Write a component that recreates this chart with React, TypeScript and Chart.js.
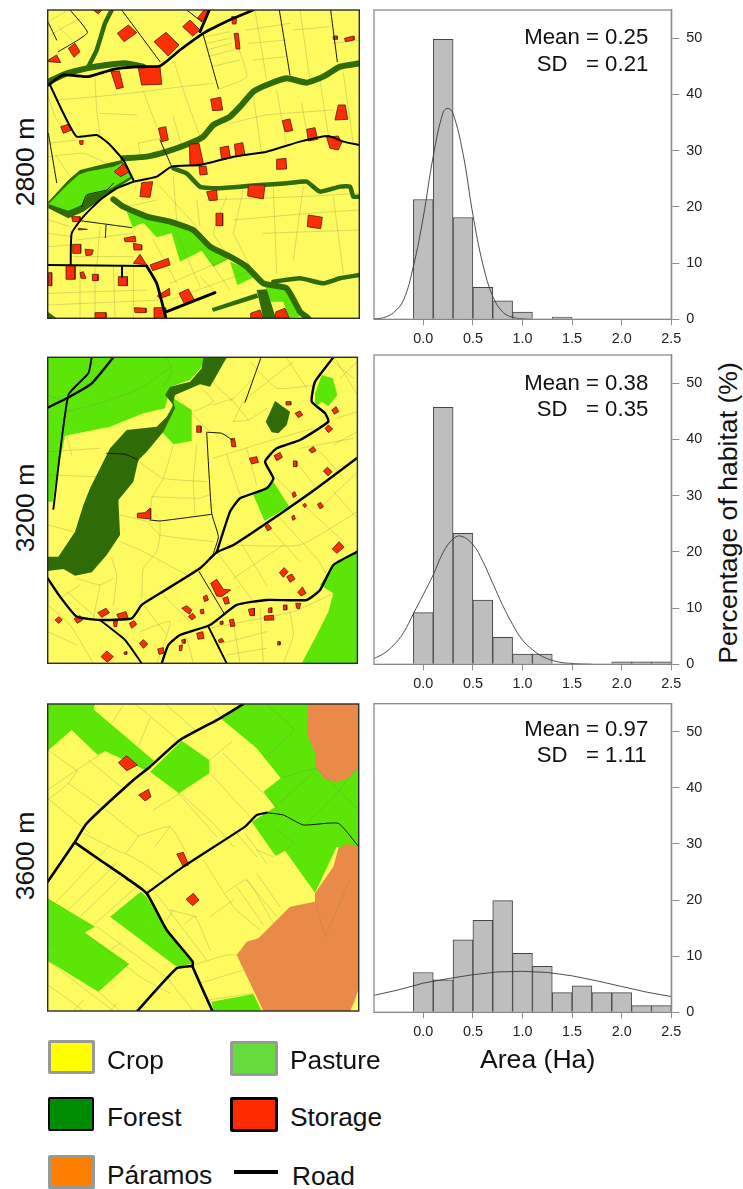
import React, { useEffect, useRef } from "react";
import { Chart, registerables } from "chart.js";

Chart.register(...registerables);

const FONT = '"Liberation Sans", Arial, sans-serif';

// ---------- histogram data ----------
const binCenters = [0, 0.2, 0.4, 0.6, 0.8, 1.0, 1.2, 1.4, 1.6, 1.8, 2.0, 2.2, 2.4];
const hist2800 = [21.3, 49.8, 18.1, 5.7, 3.3, 1.3, 0, 0.4, 0, 0, 0, 0, 0];
const hist3200 = [9.2, 45.7, 23.3, 11.4, 4.8, 1.8, 1.8, 0, 0, 0, 0.45, 0.45, 0.45];
const hist3600 = [7.1, 5.8, 12.9, 16.4, 19.9, 10.5, 8.2, 3.5, 4.7, 3.5, 3.5, 1.2, 1.2];

const curveX2800 = [-0.5, -0.4, -0.3, -0.2, -0.1, 0, 0.1, 0.2, 0.25, 0.3, 0.4, 0.5, 0.6, 0.7, 0.8, 0.9, 1.0, 1.1];
const curveY2800 = [0.1, 0.3, 1.2, 3.4, 9.4, 18.2, 29, 36.8, 37.5, 36.6, 29.5, 18.6, 9.8, 4.1, 1.3, 0.35, 0.1, 0];
const curveX3200 = [-0.5, -0.4, -0.3, -0.2, -0.1, 0, 0.1, 0.2, 0.3, 0.38, 0.5, 0.6, 0.7, 0.8, 0.9, 1.0, 1.1, 1.2, 1.3, 1.4, 1.5, 1.6, 1.7];
const curveY3200 = [1.0, 1.9, 3.4, 5.6, 9.0, 12.4, 15.9, 19.9, 22.3, 22.8, 21.3, 18.3, 14.4, 10.5, 7.1, 4.3, 2.6, 1.4, 0.7, 0.3, 0.15, 0.05, 0];
const curveX3600 = [-0.5, -0.25, 0, 0.25, 0.5, 0.75, 1.0, 1.25, 1.5, 1.75, 2.0, 2.25, 2.5];
const curveY3600 = [3.0, 4.0, 5.2, 6.0, 6.7, 7.2, 7.3, 7.1, 6.5, 5.6, 4.6, 3.6, 2.8];

// ---------- map 2800 m ----------
const map1Pasture = [
  [[380, 635], [440, 655], [510, 670], [580, 690], [630, 740], [690, 775], [640, 800], [605, 752], [540, 785], [515, 700], [470, 712], [430, 668], [398, 682]],
  [[690, 785], [740, 805], [765, 830], [712, 855]],
  [[795, 855], [860, 860], [900, 950], [865, 953], [850, 905], [810, 905]],
];
const map1ForestBlocks = [
  [[145, 605], [205, 540], [240, 510], [300, 495], [365, 480], [398, 535], [350, 565], [300, 600], [250, 635], [205, 655], [145, 625]],
  [[770, 870], [800, 868], [828, 955], [790, 955]],
  [[635, 925], [770, 880], [775, 893], [640, 935]],
  [[143, 935], [170, 955], [143, 955]],
];
const map1InnerPasture = [
  [[145, 612], [205, 552], [235, 525], [260, 515], [340, 500], [365, 490], [392, 530], [345, 558], [320, 572], [262, 585], [245, 615], [205, 632]],
];
const map1RiversWide = [
  [[370, 475], [440, 470], [500, 455], [570, 430], [610, 410], [640, 375], [690, 350], [720, 320], [760, 275], [800, 255], [860, 235], [920, 248], [970, 230], [1020, 200], [1078, 190]],
  [[340, 598], [370, 620], [440, 650], [510, 665], [580, 690], [630, 740], [690, 770], [740, 800], [790, 850], [860, 865], [900, 935], [925, 955]],
  [[145, 245], [200, 220], [260, 205], [320, 195], [375, 190], [430, 200]],
];
const map1RiversNarrow = [
  [[265, 200], [290, 150], [315, 70], [335, 30]],
  [[520, 505], [560, 520], [600, 560], [650, 565], [720, 560], [780, 555], [860, 550], [920, 545], [960, 575], [1020, 560], [1050, 560], [1060, 590], [1078, 590]],
  [[820, 845], [900, 835], [970, 850], [1020, 835], [1078, 825]],
];
const map1Parcels = [
  [[150, 105], [240, 55]], [[175, 80], [215, 120]], [[145, 65], [205, 30]],
  [[285, 235], [290, 330], [300, 405]], [[170, 300], [290, 290], [430, 275], [545, 260], [640, 250]], [[430, 275], [470, 380]],
  [[525, 195], [560, 300], [600, 410]], [[300, 340], [410, 345]], [[520, 350], [545, 440]], [[415, 430], [480, 415]], [[415, 430], [420, 460]],
  [[620, 110], [690, 95]], [[620, 130], [690, 115]], [[620, 150], [695, 130]], [[625, 170], [700, 150]], [[635, 200], [720, 180]], [[700, 100], [740, 230], [650, 270]],
  [[740, 90], [870, 70]], [[745, 130], [860, 120]], [[760, 180], [860, 170]], [[765, 30], [800, 240]], [[1000, 130], [1078, 120]], [[880, 90], [990, 80]], [[900, 30], [930, 240]],
  [[760, 290], [785, 460]], [[830, 270], [860, 440]], [[905, 310], [925, 420]], [[960, 240], [985, 405]], [[1030, 220], [1060, 430]],
  [[690, 370], [800, 345], [1000, 330]], [[620, 600], [900, 590], [1078, 580]], [[1000, 590], [1030, 820]], [[910, 560], [880, 780]], [[820, 560], [830, 820]], [[730, 570], [700, 700]],
  [[700, 660], [930, 640], [1078, 630]], [[790, 700], [1078, 690]], [[145, 660], [210, 680]], [[145, 700], [215, 710]], [[145, 740], [215, 735]], [[230, 720], [400, 700]], [[220, 770], [400, 770]], [[300, 680], [290, 800]],
  [[145, 880], [440, 870]], [[145, 915], [490, 900]], [[285, 800], [285, 955]], [[240, 800], [240, 955]], [[340, 800], [345, 955]], [[400, 800], [400, 955]],
  [[510, 850], [650, 790], [700, 770]], [[530, 700], [600, 860]], [[460, 720], [530, 850]], [[620, 770], [690, 870]], [[510, 900], [760, 810]], [[600, 830], [650, 880]],
  [[145, 290], [165, 350], [200, 400]], [[145, 470], [250, 460], [320, 490]], [[145, 430], [230, 420]], [[170, 470], [210, 530]],
  [[470, 600], [380, 620]], [[480, 560], [590, 680]], [[520, 530], [530, 660]], [[590, 600], [600, 680]], [[680, 590], [640, 700], [680, 760]], [[700, 700], [760, 820]],
];
const map1Storage = [
  [[280, 30], [305, 30], [295, 42]], [[352, 100], [385, 75], [410, 98], [372, 125]], [[462, 125], [498, 97], [537, 135], [505, 168]], [[548, 80], [570, 60], [600, 90], [578, 108]],
  [[592, 55], [612, 30], [630, 30], [610, 65]], [[695, 50], [710, 50], [708, 72], [697, 72]], [[703, 100], [715, 100], [720, 147], [708, 147]], [[1000, 108], [1012, 108], [1012, 118], [1000, 118]],
  [[1034, 115], [1060, 108], [1062, 120], [1036, 125]], [[205, 145], [225, 130], [240, 155], [222, 172]], [[145, 180], [170, 165], [182, 188], [145, 185]], [[333, 215], [358, 213], [370, 262], [350, 267]],
  [[415, 205], [480, 200], [485, 253], [425, 255]], [[632, 298], [662, 292], [668, 330], [638, 332]], [[1015, 315], [1036, 315], [1043, 358], [1005, 360]], [[847, 362], [870, 357], [878, 392], [855, 395]],
  [[475, 385], [497, 380], [505, 420], [485, 425]], [[182, 380], [205, 373], [215, 390], [190, 400]], [[238, 422], [250, 422], [248, 434], [240, 433]], [[920, 388], [945, 383], [953, 418], [925, 423]],
  [[980, 412], [1015, 408], [1025, 428], [1015, 450], [990, 445]], [[568, 433], [597, 430], [610, 490], [570, 497]], [[660, 443], [685, 438], [692, 475], [665, 478]], [[703, 433], [728, 428], [735, 465], [708, 470]],
  [[830, 478], [858, 475], [860, 507], [830, 508]], [[597, 500], [618, 498], [622, 523], [600, 525]], [[342, 515], [370, 492], [388, 515], [362, 530]], [[425, 548], [458, 545], [450, 592], [420, 590]],
  [[620, 575], [650, 570], [652, 600], [628, 602]], [[745, 555], [795, 555], [790, 597], [743, 588]], [[648, 640], [668, 640], [668, 677], [648, 677]], [[925, 645], [967, 652], [962, 686], [922, 680]],
  [[215, 650], [240, 650], [240, 665], [218, 665]], [[235, 685], [262, 688], [235, 690]], [[372, 715], [405, 708], [408, 725], [375, 725]], [[400, 730], [425, 735], [425, 750], [402, 750]],
  [[218, 733], [242, 733], [242, 760], [218, 760]], [[255, 748], [280, 750], [275, 765], [258, 767]], [[400, 790], [420, 763], [440, 795]], [[450, 795], [505, 775], [510, 795], [458, 812]],
  [[198, 797], [225, 797], [225, 838], [200, 838]], [[145, 818], [155, 818], [155, 857], [145, 857]], [[240, 818], [250, 815], [258, 835], [243, 835]], [[277, 823], [294, 823], [294, 842], [277, 842]],
  [[355, 830], [382, 830], [382, 857], [355, 857]], [[537, 880], [565, 867], [585, 903], [555, 915]], [[472, 888], [508, 865], [510, 885], [480, 895]], [[403, 923], [438, 925], [438, 938], [405, 938]],
  [[285, 938], [318, 938], [318, 955], [285, 955]], [[462, 923], [495, 923], [497, 955], [462, 955]], [[752, 940], [780, 930], [790, 955], [752, 955]], [[828, 935], [855, 925], [868, 955], [825, 955]],
];
const map1RoadsThick = [
  [[145, 255], [190, 225], [265, 230], [340, 208], [415, 200], [480, 198], [540, 150], [610, 100], [700, 55], [760, 30]],
  [[440, 798], [470, 850], [498, 955]],
  [[500, 935], [645, 878]],
  [[600, 95], [628, 30]],
];
const map1RoadsMid = [
  [[150, 255], [190, 340], [230, 410], [290, 405], [325, 430], [370, 480], [400, 540]],
  [[400, 545], [470, 530], [515, 500], [600, 495], [700, 470], [800, 455], [900, 425], [985, 408], [1030, 425], [1078, 435]],
  [[400, 545], [350, 565], [300, 600], [250, 650], [215, 700], [212, 795]],
  [[145, 795], [440, 798]], [[366, 800], [366, 830]],
];
const map1RoadsThin = [
  [[610, 105], [655, 265]], [[838, 30], [870, 225]], [[992, 30], [1012, 185]], [[210, 30], [262, 98], [175, 155]], [[145, 68], [170, 120]],
  [[365, 30], [480, 185]], [[560, 30], [605, 65]], [[240, 662], [395, 683]], [[318, 675], [316, 713]], [[480, 420], [515, 500]], [[145, 400], [170, 548]],
  [[245, 620], [260, 585], [320, 570], [340, 550]],
];

// ---------- map 3200 m ----------
const map2Pasture = [
  [[143, 37], [610, 37], [610, 60], [570, 105], [510, 125], [495, 190], [430, 205], [330, 245], [195, 272], [165, 420], [158, 470], [143, 470]],
  [[520, 160], [575, 195], [575, 288], [520, 298], [487, 262], [510, 215]],
  [[965, 90], [998, 100], [1012, 150], [985, 183], [965, 170], [945, 185], [945, 145]],
  [[760, 450], [820, 410], [868, 485], [793, 527]],
  [[1072, 620], [1000, 660], [960, 720], [1000, 745], [985, 800], [950, 870], [905, 955], [1072, 955]],
];
const map2Forest = [
  [[680, 37], [610, 37], [605, 70], [570, 110], [510, 125], [495, 150], [520, 180], [500, 215], [470, 245], [380, 255], [330, 310], [315, 340], [270, 430], [250, 480], [225, 560], [175, 635], [143, 635], [143, 678], [190, 672], [225, 692], [275, 682], [320, 630], [360, 570], [355, 465], [400, 410], [415, 345], [440, 320], [490, 260], [525, 190], [520, 170], [525, 150], [600, 118], [630, 125], [650, 90]],
  [[825, 168], [870, 200], [860, 240], [835, 265], [815, 262], [797, 230]],
];
const map2Parcels = [
  [[143, 150], [180, 165]], [[200, 200], [300, 175], [420, 130], [520, 60]], [[500, 40], [515, 80], [490, 125]],
  [[143, 320], [300, 310]], [[200, 272], [215, 330]], [[143, 390], [290, 395]], [[143, 540], [220, 560]],
  [[415, 350], [490, 400], [620, 410]], [[520, 300], [490, 400], [455, 460], [450, 530]], [[455, 455], [590, 460], [630, 450]], [[590, 300], [580, 410], [585, 510]],
  [[360, 510], [440, 530], [480, 570], [640, 590]], [[480, 530], [480, 570], [470, 620], [430, 670], [425, 760]], [[360, 590], [430, 620], [560, 690]], [[335, 640], [350, 690], [340, 780]],
  [[230, 700], [300, 720], [340, 700]], [[180, 760], [240, 720]], [[300, 720], [280, 820]],
  [[680, 40], [640, 110], [700, 170], [745, 225]], [[525, 150], [630, 260], [690, 270]], [[600, 125], [640, 170], [580, 200]], [[700, 230], [730, 170], [790, 120], [880, 50]],
  [[750, 50], [830, 130], [945, 120]], [[860, 40], [920, 130]], [[640, 180], [700, 160]], [[760, 100], [690, 170]], [[700, 230], [745, 225], [800, 190]], [[640, 340], [800, 290], [940, 250]],
  [[680, 330], [720, 450]], [[740, 310], [770, 420]], [[900, 310], [1060, 280]], [[950, 430], [880, 340]], [[830, 400], [900, 470]], [[960, 320], [1030, 400]],
  [[1000, 50], [1060, 100]], [[1020, 100], [1072, 50]], [[1010, 220], [1072, 200]], [[1000, 300], [1072, 260]], [[1005, 40], [1072, 150]],
  [[680, 600], [900, 600], [1072, 500]], [[830, 510], [950, 640], [980, 690]], [[900, 470], [1030, 590]], [[1000, 440], [1072, 520]], [[720, 590], [800, 720]], [[650, 620], [760, 770]],
  [[800, 540], [900, 650]], [[700, 700], [850, 600]], [[1072, 380], [960, 490]],
  [[625, 850], [880, 800], [1000, 745]], [[700, 830], [720, 955]], [[780, 790], [790, 955]], [[870, 800], [880, 870], [850, 955]], [[650, 900], [800, 860]], [[680, 930], [800, 910]],
  [[143, 780], [210, 840], [280, 955]], [[143, 860], [230, 900]], [[200, 740], [280, 810]], [[430, 780], [500, 870]], [[480, 740], [570, 830]], [[420, 860], [510, 830], [470, 955]], [[560, 880], [580, 955]],
];
const map2Storage = [
  [[412, 505], [435, 503], [450, 490], [452, 522], [412, 518]], [[590, 243], [603, 243], [603, 262], [590, 262]], [[692, 282], [703, 280], [708, 305], [695, 305]], [[748, 340], [770, 335], [775, 352], [755, 357]],
  [[822, 332], [840, 322], [847, 337], [830, 347]], [[880, 348], [890, 348], [890, 365], [880, 365]], [[926, 315], [940, 305], [948, 317], [935, 324]], [[970, 378], [982, 367], [996, 380], [984, 393]],
  [[975, 250], [985, 240], [998, 252], [985, 263]], [[885, 205], [900, 198], [908, 210], [895, 218]], [[858, 170], [872, 170], [872, 180], [858, 180]], [[995, 195], [1008, 185], [1016, 200], [1003, 208]],
  [[876, 445], [884, 440], [889, 452], [880, 458]], [[908, 480], [915, 475], [920, 482], [914, 488]], [[952, 478], [962, 472], [970, 485], [960, 492]], [[875, 515], [882, 510], [886, 522], [878, 526]],
  [[795, 545], [805, 538], [815, 550], [803, 558]], [[997, 612], [1017, 590], [1032, 607], [1010, 625]], [[838, 683], [852, 668], [864, 680], [850, 697]], [[860, 695], [875, 687], [885, 702], [870, 712]],
  [[893, 742], [907, 726], [918, 745], [903, 753]], [[632, 715], [650, 703], [670, 733], [692, 735], [665, 755], [650, 753]], [[668, 760], [683, 755], [688, 775], [675, 778]], [[610, 755], [620, 750], [625, 765], [613, 770]],
  [[545, 790], [560, 782], [575, 795], [568, 808]], [[565, 815], [578, 805], [587, 817], [575, 825]], [[600, 795], [610, 792], [612, 805], [603, 807]], [[293, 803], [318, 790], [328, 803], [305, 817]],
  [[350, 808], [378, 800], [385, 822], [357, 822]], [[340, 830], [352, 828], [350, 845], [342, 845]], [[388, 835], [402, 827], [410, 838], [395, 850]], [[222, 822], [240, 812], [248, 825], [232, 835]],
  [[165, 825], [177, 815], [187, 825], [175, 835]], [[418, 895], [430, 884], [443, 897], [430, 910]], [[473, 912], [490, 908], [492, 925], [477, 928]], [[303, 935], [320, 918], [340, 935], [322, 952]],
  [[372, 922], [380, 920], [380, 928], [374, 928]], [[538, 902], [547, 900], [545, 917], [538, 917]], [[545, 885], [555, 882], [555, 895], [547, 895]], [[590, 865], [608, 860], [612, 880], [594, 883]],
  [[655, 885], [665, 880], [672, 890], [658, 893]], [[660, 830], [668, 828], [668, 838], [660, 838]], [[688, 825], [700, 822], [705, 843], [692, 845]], [[745, 793], [763, 790], [763, 812], [750, 812]],
  [[805, 790], [815, 788], [815, 803], [805, 803]], [[793, 813], [820, 811], [822, 825], [793, 826]], [[850, 780], [860, 780], [860, 795], [850, 795]], [[887, 775], [902, 775], [898, 792], [890, 790]],
  [[833, 890], [840, 890], [840, 900], [833, 900]],
];
const map2RoadsThick = [
  [[1070, 340], [950, 430], [850, 500], [700, 600], [650, 622], [600, 670], [480, 745], [425, 780], [395, 820], [300, 825], [230, 815], [180, 755], [143, 700]],
  [[650, 622], [690, 500], [720, 460], [800, 430], [820, 400], [795, 350], [830, 310], [900, 285], [985, 230], [975, 205], [935, 170], [945, 110], [1000, 37]],
  [[1072, 620], [1000, 660], [960, 735], [920, 765], [800, 765], [710, 780], [630, 840], [540, 870], [505, 900], [485, 955]],
  [[143, 188], [200, 160], [275, 115], [340, 37]],
];
const map2RoadsMid = [
  [[300, 825], [375, 885], [425, 955]], [[625, 845], [680, 955]], [[275, 37], [265, 85], [205, 150], [160, 492]],
];
const map2RoadsThin = [
  [[597, 680], [672, 805]], [[620, 265], [635, 505], [655, 575], [640, 625]], [[450, 525], [480, 528], [635, 508]], [[620, 262], [665, 265], [697, 285]], [[735, 172], [783, 37]], [[320, 325], [375, 328], [415, 345]],
];

// ---------- map 3600 m ----------
const map3Pasture = [
  [[143, 42], [285, 42], [280, 58], [462, 212], [435, 240], [315, 183], [293, 195], [215, 120], [143, 182]],
  [[545, 152], [628, 210], [628, 250], [537, 310], [450, 245]],
  [[665, 88], [730, 42], [1076, 42], [1076, 500], [1010, 470], [945, 608], [855, 482], [826, 497], [755, 395], [825, 352], [790, 305], [842, 265], [770, 175]],
  [[422, 605], [440, 620], [510, 740], [580, 820], [530, 830], [330, 680]],
  [[143, 625], [285, 710], [143, 790]],
  [[143, 790], [250, 725], [388, 822], [295, 905], [143, 812]],
  [[635, 935], [760, 912], [785, 963], [640, 963]],
];
const map3Paramos = [
  [[925, 42], [1076, 42], [1076, 230], [1045, 265], [1010, 277], [970, 265], [945, 225], [945, 190], [920, 130]],
  [[1076, 470], [1040, 462], [1015, 475], [1000, 530], [945, 610], [945, 635], [870, 650], [800, 720], [775, 745], [740, 755], [710, 795], [790, 963], [1050, 963], [1065, 930], [1076, 895]],
];
const map3Parcels = [
  [[143, 300], [230, 240], [315, 185]], [[143, 180], [235, 245]], [[143, 325], [270, 430]], [[205, 280], [330, 370], [415, 438]], [[265, 210], [375, 300]], [[230, 245], [205, 280], [143, 330]],
  [[370, 45], [335, 100]], [[410, 45], [535, 150]], [[450, 85], [415, 170]], [[500, 45], [585, 120]], [[640, 50], [660, 80]],
  [[540, 310], [640, 400], [700, 470]], [[460, 360], [540, 310]], [[415, 438], [510, 410], [560, 490]], [[415, 438], [375, 490], [330, 470], [250, 430]], [[510, 410], [465, 470]], [[375, 490], [430, 520], [500, 570]],
  [[630, 210], [695, 155]], [[670, 190], [840, 360]], [[630, 250], [750, 380]], [[535, 310], [650, 440]],
  [[165, 640], [325, 470]], [[205, 660], [350, 520]], [[240, 680], [375, 550]], [[280, 705], [410, 590]],
  [[610, 510], [700, 650], [780, 720]], [[680, 605], [740, 570], [820, 700]], [[710, 590], [790, 705]], [[740, 570], [830, 680]], [[770, 550], [840, 650]], [[630, 680], [700, 630]], [[520, 660], [500, 690]],
  [[555, 700], [585, 680], [630, 780]], [[590, 680], [510, 660]], [[460, 600], [620, 810]], [[580, 825], [680, 795], [710, 795]], [[600, 880], [730, 840]], [[625, 930], [760, 910]],
  [[700, 420], [770, 500]], [[735, 430], [800, 520]], [[770, 480], [820, 500]], [[830, 420], [880, 460], [830, 497]], [[820, 355], [950, 235], [840, 265]], [[950, 235], [1076, 360]], [[920, 400], [1000, 320], [1076, 230]],
  [[800, 45], [880, 120], [790, 205]], [[975, 740], [1050, 570]], [[950, 650], [975, 740]],
  [[143, 885], [200, 925], [250, 963]], [[250, 725], [420, 860], [510, 910]], [[290, 710], [510, 870]], [[330, 780], [360, 760]], [[220, 963], [250, 930]], [[330, 963], [350, 940]], [[295, 905], [360, 963]],
  [[500, 860], [530, 900], [580, 963]], [[143, 812], [340, 963]],
];
const map3Storage = [
  [[355, 218], [380, 197], [412, 225], [380, 242]], [[416, 315], [445, 298], [453, 320], [435, 333]], [[530, 492], [550, 487], [566, 525], [550, 530]], [[558, 628], [580, 610], [597, 630], [578, 647]],
];
const map3RoadsThick = [
  [[143, 575], [225, 455], [260, 400], [400, 270], [450, 230], [540, 150], [660, 85], [730, 42]],
  [[225, 458], [300, 510], [380, 565], [440, 610], [500, 720], [578, 815], [578, 830], [637, 963]],
  [[412, 963], [530, 835], [578, 828]],
];
const map3RoadsMid = [
  [[440, 610], [550, 530], [735, 410], [770, 375], [800, 368]],
];
const map3RoadsThin = [
  [[800, 368], [850, 375], [910, 405], [1015, 400], [1076, 470]],
];

// ---------- labels ----------
const elevationLabels = ["2800 m", "3200 m", "3600 m"];
const meanLabels = ["Mean = 0.25", "Mean = 0.38", "Mean = 0.97"];
const sdLabels = ["SD   = 0.21", "SD   = 0.35", "SD   = 1.11"];

const framePlugin = {
  id: "frame",
  afterDatasetsDraw(chart: any, _a: any, opts: any) {
    const { ctx, chartArea: a } = chart;
    ctx.save();
    ctx.strokeStyle = opts.color;
    ctx.lineWidth = opts.width;
    ctx.strokeRect(a.left, a.top, a.right - a.left, a.bottom - a.top);
    ctx.restore();
  },
};

const YELLOW = "#fdfb5f";
const GREEN = "#5ce608";
const DARK = "#2f6b06";
const ORANGE = "#e98a48";
const PARCEL = "rgba(125,125,85,0.3)";
const REDFILL = "#fb2e06";
const REDLINE = "#5b1405";

function polyDS(polys: number[][][], color: string, stroke = "rgba(0,0,0,0)", width = 0) {
  return polys.map((p) => ({
    data: [...p, p[0]].map(([x, y]) => ({ x, y })),
    showLine: true,
    fill: "shape",
    backgroundColor: color,
    borderColor: stroke,
    borderWidth: width,
    pointRadius: 0,
    tension: 0,
  }));
}
function lineDS(lines: number[][][], color: string, width: number) {
  return lines.map((p) => ({
    data: p.map(([x, y]) => ({ x, y })),
    showLine: true,
    fill: false,
    borderColor: color,
    borderWidth: width,
    pointRadius: 0,
    tension: 0.15,
    borderCapStyle: "round",
    borderJoinStyle: "round",
  }));
}

const mapSpecs = [
  {
    left: 47.7, top: 10, width: 311.6, height: 308.3, xMin: 143, xMax: 1078, yMin: 30, yMax: 955,
    layers: () => [
      ...polyDS([[[143, 30], [1078, 30], [1078, 955], [143, 955]]], YELLOW),
      ...polyDS(map1Pasture, GREEN),
      ...lineDS(map1Parcels, PARCEL, 0.9),
      ...polyDS(map1ForestBlocks, DARK),
      ...lineDS(map1RiversWide, DARK, 6),
      ...lineDS(map1RiversNarrow, DARK, 4.5),
      ...polyDS(map1InnerPasture, GREEN),
      ...polyDS(map1Storage, REDFILL, REDLINE, 0.8),
      ...lineDS(map1RoadsThin, "#141414", 1),
      ...lineDS(map1RoadsMid, "#000", 2),
      ...lineDS(map1RoadsThick, "#000", 2.8),
    ],
  },
  {
    left: 47.7, top: 357.3, width: 309.7, height: 306, xMin: 143, xMax: 1072, yMin: 37, yMax: 955,
    layers: () => [
      ...polyDS([[[143, 37], [1072, 37], [1072, 955], [143, 955]]], YELLOW),
      ...polyDS(map2Pasture, GREEN),
      ...lineDS(map2Parcels, PARCEL, 0.9),
      ...polyDS(map2Forest, DARK),
      ...polyDS(map2Storage, REDFILL, REDLINE, 0.8),
      ...lineDS(map2RoadsThin, "#141414", 1),
      ...lineDS(map2RoadsMid, "#000", 1.9),
      ...lineDS(map2RoadsThick, "#000", 2.4),
    ],
  },
  {
    left: 47.7, top: 704, width: 311, height: 307, xMin: 143, xMax: 1076, yMin: 42, yMax: 963,
    layers: () => [
      ...polyDS([[[143, 42], [1076, 42], [1076, 963], [143, 963]]], YELLOW),
      ...polyDS(map3Pasture, GREEN),
      ...polyDS(map3Paramos, ORANGE),
      ...lineDS(map3Parcels, PARCEL, 0.9),
      ...polyDS(map3Storage, REDFILL, REDLINE, 0.8),
      ...lineDS(map3RoadsThin, "#141414", 1),
      ...lineDS(map3RoadsMid, "#000", 2.2),
      ...lineDS(map3RoadsThick, "#000", 2.6),
    ],
  },
];

function MapPanel({ spec }: { spec: any }) {
  const ref = useRef<HTMLCanvasElement>(null);
  const canvasLeft = Math.floor(spec.left) - 3;
  const canvasTop = Math.floor(spec.top) - 3;
  const padLeft = spec.left - canvasLeft;
  const padTop = spec.top - canvasTop;
  const canvasW = Math.ceil(padLeft + spec.width + 3);
  const canvasH = Math.ceil(padTop + spec.height + 3);
  useEffect(() => {
    const datasets = spec.layers().reverse();
    const chart = new Chart(ref.current as any, {
      type: "scatter",
      data: { datasets },
      plugins: [framePlugin],
      options: {
        animation: false,
        responsive: false,
        events: [],
        layout: {
          autoPadding: false,
          padding: { left: padLeft, top: padTop, right: canvasW - padLeft - spec.width, bottom: canvasH - padTop - spec.height },
        },
        scales: {
          x: { type: "linear", display: false, min: spec.xMin, max: spec.xMax },
          y: { type: "linear", display: false, min: spec.yMin, max: spec.yMax, reverse: true },
        },
        plugins: { legend: { display: false }, tooltip: { enabled: false }, frame: { color: "#2b2b2b", width: 1.4 } },
      },
    } as any);
    return () => chart.destroy();
  }, []);
  return (
    <canvas
      ref={ref}
      width={canvasW}
      height={canvasH}
      style={{ position: "absolute", left: canvasLeft, top: canvasTop, display: "block" }}
    />
  );
}

const histSpecs = [
  { top: 10, bottom: 319.3, values: hist2800, cx: curveX2800, cy: curveY2800, tension: 0.4 },
  { top: 355, bottom: 664.3, values: hist3200, cx: curveX3200, cy: curveY3200, tension: 0.4 },
  { top: 703.7, bottom: 1012.3, values: hist3600, cx: curveX3600, cy: curveY3600, tension: 0 },
];

function HistPanel({ spec }: { spec: any }) {
  const ref = useRef<HTMLCanvasElement>(null);
  const canvasLeft = 370;
  const canvasWidth = 335;
  const canvasTop = Math.floor(spec.top) - 4;
  const padTop = spec.top - canvasTop;
  const canvasH = Math.ceil(spec.bottom) + 34 - canvasTop;
  const bottomSpace = canvasH - (spec.bottom - canvasTop);
  useEffect(() => {
    const tickFont = { family: FONT, size: 14.4 };
    const chart = new Chart(ref.current as any, {
      type: "bar",
      data: {
        datasets: [
          {
            type: "line",
            order: 0,
            data: spec.cx.map((x: number, i: number) => ({ x, y: spec.cy[i] })),
            borderColor: "#3a3a3a",
            borderWidth: 0.9,
            pointRadius: 0,
            tension: spec.tension,
            fill: false,
          },
          {
            type: "bar",
            order: 1,
            data: binCenters.map((x, i) => ({ x, y: spec.values[i] })),
            backgroundColor: "#bebebe",
            borderColor: "#454545",
            borderWidth: 1,
            barPercentage: 1,
            categoryPercentage: 1,
          },
        ],
      },
      plugins: [framePlugin],
      options: {
        animation: false,
        responsive: false,
        events: [],
        layout: { autoPadding: false, padding: { left: 4, top: padTop, right: 0, bottom: 0 } },
        scales: {
          x: {
            type: "linear",
            offset: false,
            min: -0.497,
            max: 2.5,
            afterBuildTicks: (s: any) => {
              s.ticks = [0, 0.5, 1, 1.5, 2, 2.5].map((value) => ({ value }));
            },
            afterFit: (s: any) => {
              s.height = bottomSpace;
              s.paddingLeft = 0;
              s.paddingRight = 0;
            },
            grid: { drawOnChartArea: false, drawTicks: true, tickLength: 6, tickColor: "#8c8c8c", offset: false },
            border: { display: true, color: "#3a3a3a", width: 1 },
            ticks: {
              autoSkip: false,
              maxRotation: 0,
              padding: 5,
              color: "#222",
              font: tickFont,
              callback: (v: any) => Number(v).toFixed(1),
            },
          },
          y: {
            position: "right",
            min: 0,
            max: 55,
            afterFit: (s: any) => {
              s.width = 33.7;
              s.paddingTop = 0;
              s.paddingBottom = 0;
            },
            grid: { drawOnChartArea: false, drawTicks: true, tickLength: 8, tickColor: "#8c8c8c" },
            border: { display: true, color: "#8c8c8c", width: 1.3 },
            ticks: { stepSize: 10, includeBounds: false, padding: 7, color: "#222", font: tickFont, align: "center", crossAlign: "near" },
          },
        },
        plugins: { legend: { display: false }, tooltip: { enabled: false }, frame: { color: "#8c8c8c", width: 1.3 } },
      },
    } as any);
    return () => chart.destroy();
  }, []);
  return (
    <canvas
      ref={ref}
      width={canvasWidth}
      height={canvasH}
      style={{ position: "absolute", left: canvasLeft, top: canvasTop, display: "block" }}
    />
  );
}

const textBase: React.CSSProperties = {
  position: "absolute",
  fontFamily: FONT,
  color: "#111",
  whiteSpace: "pre",
  lineHeight: 1,
};

function Label({ x, y, size, children }: { x: number; y: number; size: number; children: React.ReactNode }) {
  return <div style={{ ...textBase, left: x, top: y - size / 2, fontSize: size }}>{children}</div>;
}
function Rotated({ x, y, children }: { x: number; y: number; children: React.ReactNode }) {
  return (
    <div style={{ ...textBase, left: x, top: y, fontSize: 26.6, transform: "translate(-50%,-50%) rotate(-90deg)" }}>
      {children}
    </div>
  );
}
function Swatch({ x, y, w, h, fill, line, lw }: any) {
  return (
    <div
      style={{
        position: "absolute",
        left: x,
        top: y,
        width: w,
        height: h,
        boxSizing: "border-box",
        background: fill,
        border: `${lw}px solid ${line}`,
        borderRadius: 2,
      }}
    />
  );
}

const meanY = [37, 383, 729];
const sdY = [64, 409, 755];
const elevY = [162, 508, 855.5];

export default function App() {
  return (
    <div style={{ position: "absolute", left: 0, top: 0, width: 743, height: 1189, overflow: "hidden", background: "#fff" }}>
      {mapSpecs.map((s, i) => (
        <MapPanel key={i} spec={s} />
      ))}
      {histSpecs.map((s, i) => (
        <HistPanel key={i} spec={s} />
      ))}
      {elevationLabels.map((t, i) => (
        <Rotated key={t} x={25} y={elevY[i]}>
          {t}
        </Rotated>
      ))}
      {meanLabels.map((t, i) => (
        <Label key={t} x={524.3} y={meanY[i]} size={22.2}>
          {t}
        </Label>
      ))}
      {sdLabels.map((t, i) => (
        <Label key={t} x={536.7} y={sdY[i]} size={22.2}>
          {t}
        </Label>
      ))}
      <Rotated x={728} y={512.5}>
        Percentage of habitat (%)
      </Rotated>
      <Label x={480} y={1059} size={26.6}>
        Area (Ha)
      </Label>

      <Swatch x={47.5} y={1040} w={47} h={34} fill="#ffff00" line="#999" lw={3} />
      <Swatch x={230} y={1041} w={47.5} h={35} fill="#66dd3c" line="#999" lw={3} />
      <Swatch x={48} y={1097} w={46} h={34} fill="#008c00" line="#000" lw={2} />
      <Swatch x={230} y={1097} w={47.5} h={35} fill="#ff2a00" line="#000" lw={3} />
      <Swatch x={47.5} y={1155} w={47} h={34} fill="#ff7f00" line="#999" lw={3} />
      <div style={{ position: "absolute", left: 234, top: 1170, width: 44, height: 4, background: "#000" }} />
      <Label x={107} y={1060} size={26.3}>Crop</Label>
      <Label x={290} y={1060} size={26.3}>Pasture</Label>
      <Label x={107} y={1117} size={26.3}>Forest</Label>
      <Label x={290} y={1117} size={26.3}>Storage</Label>
      <Label x={107} y={1175} size={26.3}>Páramos</Label>
      <Label x={292} y={1176} size={26.3}>Road</Label>
    </div>
  );
}
